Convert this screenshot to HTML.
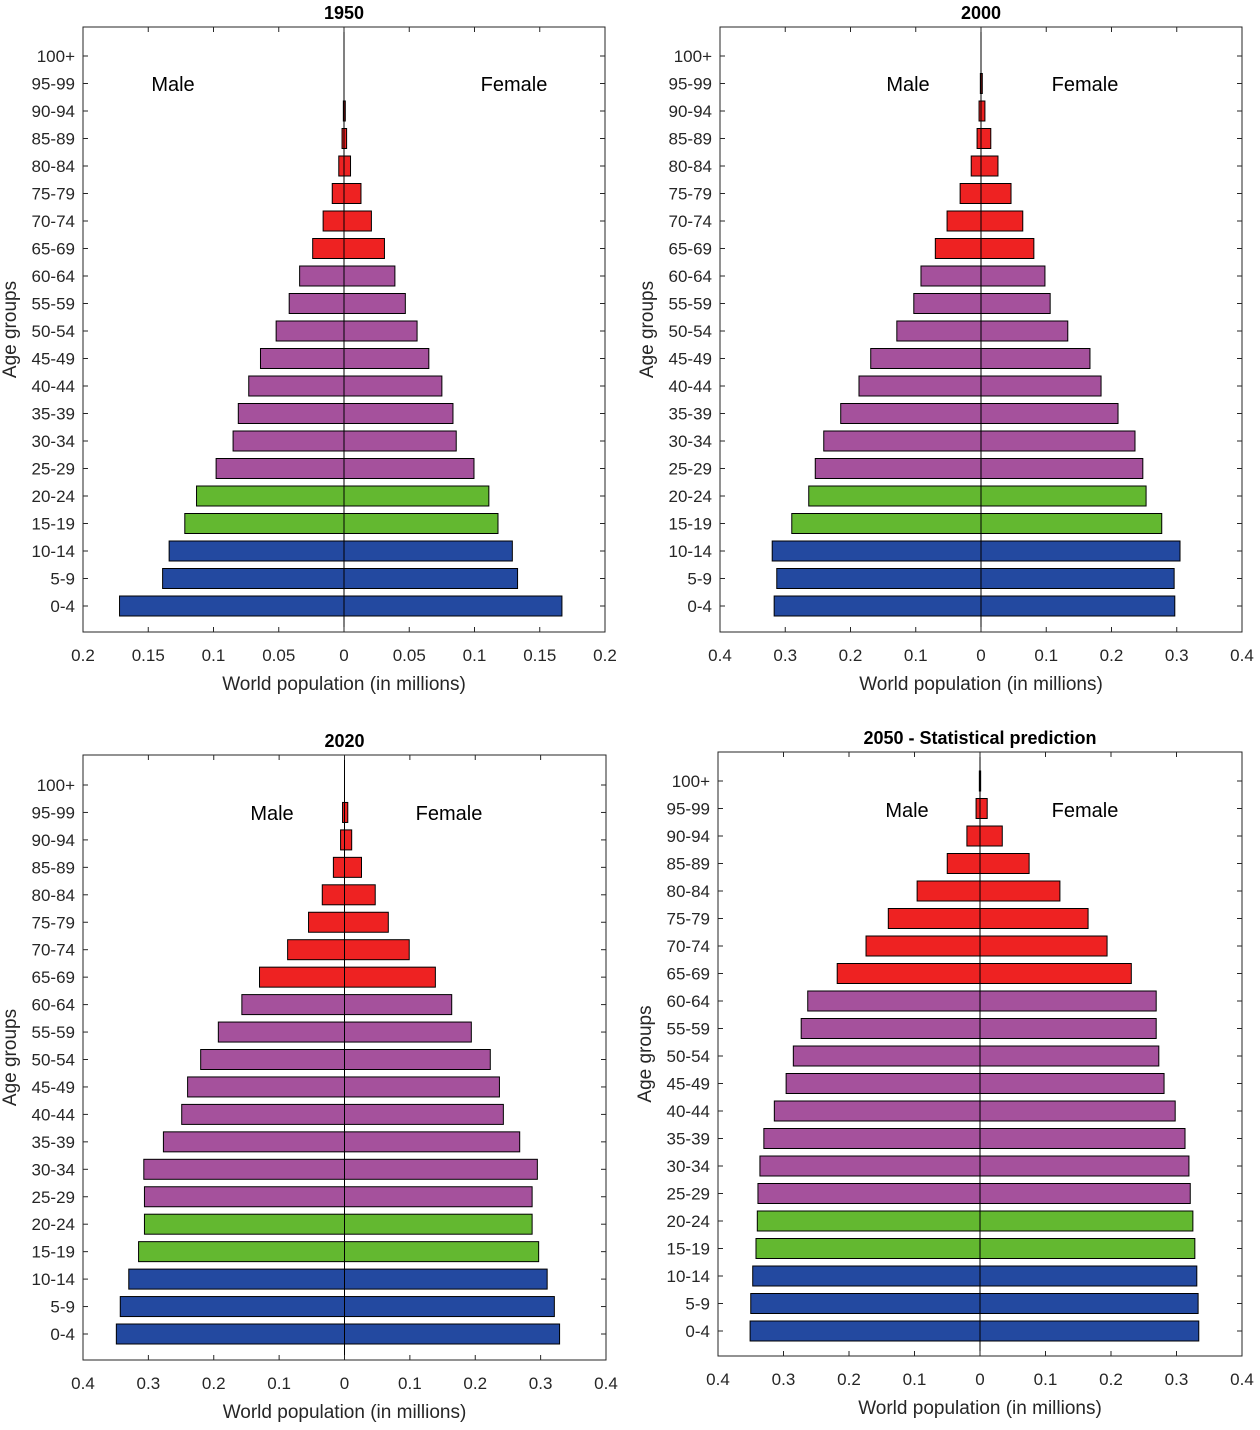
<!DOCTYPE html>
<html><head><meta charset="utf-8"><style>
body{margin:0;background:#fff;width:1260px;height:1425px;overflow:hidden}
svg{font-family:"Liberation Sans",sans-serif}
</style></head><body>
<svg id="c" width="1260" height="1425"></svg>
<script>
const ages=["0-4","5-9","10-14","15-19","20-24","25-29","30-34","35-39","40-44","45-49","50-54","55-59","60-64","65-69","70-74","75-79","80-84","85-89","90-94","95-99","100+"];
const male1950=[0.172,0.139,0.134,0.122,0.113,0.098,0.085,0.081,0.073,0.064,0.052,0.042,0.034,0.024,0.016,0.009,0.004,0.0015,0.0005,0,0];
const female1950=[0.167,0.133,0.129,0.118,0.111,0.0996,0.086,0.0835,0.075,0.065,0.056,0.047,0.039,0.031,0.021,0.013,0.005,0.002,0.001,0,0];
const male2000=[0.317,0.313,0.320,0.290,0.264,0.254,0.241,0.215,0.187,0.169,0.129,0.103,0.092,0.070,0.052,0.032,0.015,0.006,0.003,0.001,0];
const female2000=[0.297,0.296,0.305,0.277,0.253,0.248,0.236,0.210,0.184,0.167,0.133,0.106,0.098,0.081,0.064,0.046,0.026,0.015,0.006,0.002,0];
const male2020=[0.349,0.343,0.330,0.315,0.306,0.306,0.307,0.277,0.249,0.240,0.220,0.193,0.157,0.130,0.087,0.055,0.034,0.017,0.006,0.003,0];
const female2020=[0.329,0.321,0.310,0.297,0.287,0.287,0.295,0.268,0.243,0.237,0.223,0.194,0.164,0.139,0.099,0.067,0.047,0.026,0.011,0.005,0];
const male2050=[0.351,0.350,0.347,0.342,0.340,0.339,0.336,0.330,0.314,0.296,0.285,0.273,0.263,0.218,0.174,0.140,0.096,0.050,0.020,0.006,0.001];
const female2050=[0.334,0.333,0.331,0.328,0.325,0.321,0.319,0.313,0.298,0.281,0.273,0.269,0.269,0.231,0.194,0.165,0.122,0.075,0.034,0.011,0.001];
const ticks1950=["0.2","0.15","0.1","0.05","0","0.05","0.1","0.15","0.2"];
const ticks04=["0.4","0.3","0.2","0.1","0","0.1","0.2","0.3","0.4"];
const NS="http://www.w3.org/2000/svg";
const svg=document.getElementById('c');
function mk(tag,attrs,parent){const e=document.createElementNS(NS,tag);for(const k in attrs)e.setAttribute(k,attrs[k]);(parent||svg).appendChild(e);return e;}
function col(i){return i<3?"#2349a0":i<5?"#63b830":i<13?"#a5519c":"#ee2222";}
function panel(p){
  const g=mk('g',{});
  
  
  const x0=p.L,x1=p.R,mid=(x0+x1)/2,top=p.T,bot=p.B;
  const sx=v=>(x1-x0)/2/p.max*v;
  const yc=i=>p.y0-i*(p.y0-p.y20)/20;
  const bh=20;
  const box=mk('rect',{x:x0,y:top,width:x1-x0,height:bot-top,fill:'none',stroke:'#262626','stroke-width':1},g);
  
  ages.forEach((a,i)=>{
    const y=yc(i);
    const m=p.m[i],f=p.f[i];
    if(m>0){const r=mk('rect',{x:mid-sx(m),y:y-bh/2,width:sx(m),height:bh,fill:col(i),stroke:'#000','stroke-width':1},g);
      }
    if(f>0){const r=mk('rect',{x:mid,y:y-bh/2,width:sx(f),height:bh,fill:col(i),stroke:'#000','stroke-width':1},g);
      }
    const t=mk('text',{x:x0-8,y:y+6,'text-anchor':'end','font-size':17,fill:'#262626'},g);t.textContent=a;
    
    mk('line',{x1:x0,x2:x0+5,y1:y,y2:y,stroke:'#262626'},g);
    mk('line',{x1:x1,x2:x1-5,y1:y,y2:y,stroke:'#262626'},g);
  });
  mk('line',{x1:mid,x2:mid,y1:top,y2:bot,stroke:'#000','stroke-width':1},g);
  p.ticks.forEach((t,j)=>{
    const x=x0+j*(x1-x0)/(p.ticks.length-1);
    mk('line',{x1:x,x2:x,y1:bot,y2:bot-5,stroke:'#262626'},g);
    mk('line',{x1:x,x2:x,y1:top,y2:top+5,stroke:'#262626'},g);
    const e=mk('text',{x:x,y:bot+29,'text-anchor':'middle','font-size':17,fill:'#262626'},g);e.textContent=t;
    
  });
  const xl=mk('text',{x:mid,y:bot+58,'text-anchor':'middle','font-size':19,fill:'#262626'},g);xl.textContent='World population (in millions)';
  
  const yx=p.L-67,ym=(top+bot)/2;
  const yl=mk('text',{x:yx,y:ym,'text-anchor':'middle','font-size':19,fill:'#262626',transform:`rotate(-90 ${yx} ${ym})`},g);yl.textContent='Age groups';
  
  const ti=mk('text',{x:mid,y:top-8,'text-anchor':'middle','font-size':18,'font-weight':'bold',fill:'#000'},g);ti.textContent=p.title;
  
  const ml=mk('text',{x:p.mx,y:p.ly,'text-anchor':'middle','font-size':20,fill:'#000'},g);ml.textContent='Male';
  
  const fl=mk('text',{x:p.fx,y:p.ly,'text-anchor':'middle','font-size':20,fill:'#000'},g);fl.textContent='Female';
  
}
panel({key:'1950',title:'1950',L:83,R:605,T:27,B:632,y0:606,y20:56,max:0.2,m:male1950,f:female1950,ticks:ticks1950,mx:173,fx:514,ly:91});
panel({key:'2000',title:'2000',L:720,R:1242,T:27,B:632,y0:606,y20:56,max:0.4,m:male2000,f:female2000,ticks:ticks04,mx:908,fx:1085,ly:91});
panel({key:'2020',title:'2020',L:83,R:606,T:755,B:1360,y0:1334,y20:785,max:0.4,m:male2020,f:female2020,ticks:ticks04,mx:272,fx:449,ly:820});
panel({key:'2050',title:'2050 - Statistical prediction',L:718,R:1242,T:752,B:1356,y0:1331,y20:781,max:0.4,m:male2050,f:female2050,ticks:ticks04,mx:907,fx:1085,ly:817});
</script>
</body></html>
